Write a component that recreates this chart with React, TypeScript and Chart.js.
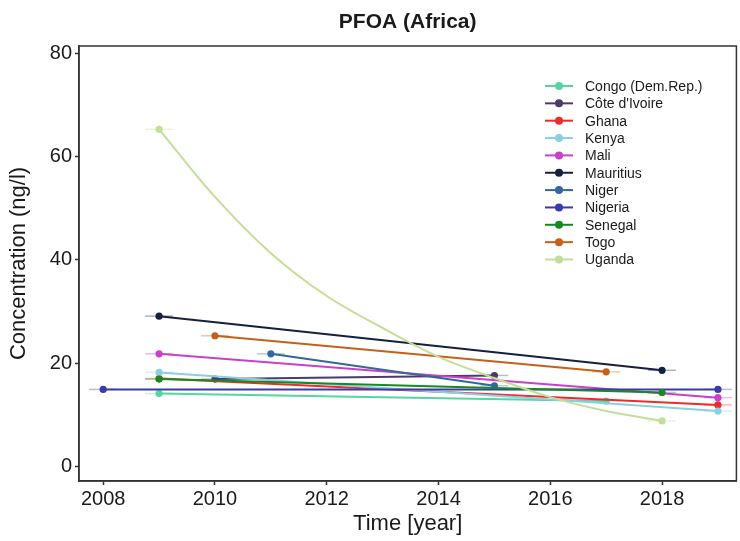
import React, { useEffect, useRef } from "react";
import { Chart, registerables } from "chart.js";

Chart.register(...registerables);

const TITLE = "PFOA (Africa)";
const X_TITLE = "Time [year]";
const Y_TITLE = "Concentration (ng/l)";
const X_TICKS = [2008, 2010, 2012, 2014, 2016, 2018];
const Y_TICKS = [0, 20, 40, 60, 80];

const COUNTRIES = [
  "Congo (Dem.Rep.)",
  "Côte d'Ivoire",
  "Ghana",
  "Kenya",
  "Mali",
  "Mauritius",
  "Niger",
  "Nigeria",
  "Senegal",
  "Togo",
  "Uganda",
];
const COLORS = [
  "#57d5a0",
  "#4a3b69",
  "#f02a2a",
  "#8ccfe3",
  "#c940c9",
  "#142040",
  "#33689e",
  "#3a3aaa",
  "#168a20",
  "#c4601a",
  "#c3de98",
];

const CONGO_YEARS = [2009, 2017];
const CONGO_VALUES = [14.1, 12.65];
const COTE_YEARS = [2010, 2015];
const COTE_VALUES = [16.9, 17.6];
const GHANA_YEARS = [2009, 2019];
const GHANA_VALUES = [17.0, 11.9];
const KENYA_YEARS = [2009, 2019];
const KENYA_VALUES = [18.2, 10.7];
const MALI_YEARS = [2009, 2019];
const MALI_VALUES = [21.8, 13.3];
const MAURITIUS_YEARS = [2009, 2018];
const MAURITIUS_VALUES = [29.1, 18.6];
const NIGER_YEARS = [2011, 2015];
const NIGER_VALUES = [21.8, 15.6];
const NIGERIA_YEARS = [2008, 2019];
const NIGERIA_VALUES = [14.9, 14.9];
const SENEGAL_YEARS = [2009, 2018];
const SENEGAL_VALUES = [16.9, 14.3];
const TOGO_YEARS = [2010, 2017];
const TOGO_VALUES = [25.3, 18.3];
const UGANDA_YEARS = [2009, 2010, 2011, 2012, 2013, 2014, 2015, 2016, 2017, 2018];
const UGANDA_VALUES = [65.3, 52.2, 41.3, 33.0, 26.8, 21.2, 17.1, 13.4, 10.7, 8.8];

const SERIES_YEARS = [
  CONGO_YEARS, COTE_YEARS, GHANA_YEARS, KENYA_YEARS, MALI_YEARS, MAURITIUS_YEARS,
  NIGER_YEARS, NIGERIA_YEARS, SENEGAL_YEARS, TOGO_YEARS, UGANDA_YEARS,
];
const SERIES_VALUES = [
  CONGO_VALUES, COTE_VALUES, GHANA_VALUES, KENYA_VALUES, MALI_VALUES, MAURITIUS_VALUES,
  NIGER_VALUES, NIGERIA_VALUES, SENEGAL_VALUES, TOGO_VALUES, UGANDA_VALUES,
];
const ERR_HALF = 0.25;

const FONT = "'Liberation Sans', Arial, sans-serif";
const TEXT = "#1a1a1a";
const AXIS = "#333333";

function hexA(hex: string, a: number) {
  const r = parseInt(hex.slice(1, 3), 16);
  const g = parseInt(hex.slice(3, 5), 16);
  const b = parseInt(hex.slice(5, 7), 16);
  return `rgba(${r},${g},${b},${a})`;
}

const decor = {
  id: "decor",
  beforeDatasetsDraw(chart: any) {
    const ctx = chart.ctx;
    const xs = chart.scales.x;
    chart.data.datasets.forEach((ds: any, i: number) => {
      const meta = chart.getDatasetMeta(i);
      const n = ds.data.length;
      ctx.save();
      ctx.strokeStyle = hexA(COLORS[i], 0.35);
      ctx.lineWidth = 1.5;
      [0, n - 1].forEach((idx) => {
        const p = ds.data[idx];
        const el = meta.data[idx];
        const x1 = xs.getPixelForValue(p.x - ERR_HALF);
        const x2 = xs.getPixelForValue(p.x + ERR_HALF);
        ctx.beginPath();
        ctx.moveTo(x1, el.y);
        ctx.lineTo(x2, el.y);
        ctx.stroke();
      });
      ctx.restore();
    });
  },
  afterDraw(chart: any) {
    const ctx = chart.ctx;
    const a = chart.chartArea;
    ctx.save();
    ctx.strokeStyle = AXIS;
    ctx.lineWidth = 1.5;
    ctx.strokeRect(a.left, a.top, a.right - a.left, a.bottom - a.top);
    ctx.fillStyle = TEXT;
    ctx.font = `bold 21px ${FONT}`;
    ctx.textAlign = "center";
    ctx.textBaseline = "middle";
    ctx.fillText(TITLE, (a.left + a.right) / 2, 22);
    ctx.font = `14px ${FONT}`;
    ctx.textAlign = "left";
    COUNTRIES.forEach((name, i) => {
      const y = 86 + i * 17.35;
      ctx.strokeStyle = COLORS[i];
      ctx.lineWidth = 2;
      ctx.beginPath();
      ctx.moveTo(545, y);
      ctx.lineTo(573, y);
      ctx.stroke();
      ctx.fillStyle = COLORS[i];
      ctx.beginPath();
      ctx.arc(559, y, 4, 0, Math.PI * 2);
      ctx.fill();
      ctx.fillStyle = TEXT;
      ctx.fillText(name, 585, y + 1);
    });
    ctx.restore();
  },
};

export default function App() {
  const ref = useRef<HTMLCanvasElement | null>(null);
  useEffect(() => {
    const canvas = ref.current;
    if (!canvas) return;
    const datasets = COUNTRIES.map((name, i) => ({
      label: name,
      data: SERIES_YEARS[i].map((yr, j) => ({ x: yr, y: SERIES_VALUES[i][j] })),
      order: COUNTRIES.length - i,
      borderColor: COLORS[i],
      backgroundColor: COLORS[i],
      borderWidth: 2,
      pointRadius: (c: any) =>
        c.dataIndex === 0 || c.dataIndex === SERIES_YEARS[i].length - 1 ? 3.6 : 0,
      pointBorderWidth: 0,
      pointHoverRadius: 0,
      cubicInterpolationMode: "monotone" as const,
      fill: false,
    }));
    const chart = new Chart(canvas, {
      type: "line",
      data: { datasets },
      plugins: [decor],
      options: {
        animation: false,
        responsive: false,
        events: [],
        layout: { padding: { top: 46, right: 1, left: 0, bottom: 0 } },
        plugins: {
          legend: { display: false },
          title: { display: false },
          tooltip: { enabled: false },
        },
        scales: {
          x: {
            type: "linear",
            min: 2007.567,
            max: 2019.33,
            afterBuildTicks: (s: any) => {
              s.ticks = X_TICKS.map((v) => ({ value: v }));
            },
            afterFit: (s: any) => {
              s.height = 60;
            },
            ticks: {
              font: { family: FONT, size: 20 },
              color: TEXT,
              padding: 2,
              maxRotation: 0,
              autoSkip: false,
              callback: (v: any) => String(v),
            },
            grid: {
              display: true,
              drawOnChartArea: false,
              drawTicks: true,
              tickLength: 4,
              tickColor: AXIS,
              tickWidth: 1.5,
            },
            border: { display: true, color: AXIS, width: 1.5 },
            title: {
              display: true,
              text: X_TITLE,
              font: { family: FONT, size: 22 },
              color: TEXT,
              padding: { top: 0, bottom: 4 },
            },
          },
          y: {
            type: "linear",
            min: -2.85,
            max: 81.45,
            afterBuildTicks: (s: any) => {
              s.ticks = Y_TICKS.map((v) => ({ value: v }));
            },
            afterFit: (s: any) => {
              s.width = 79;
            },
            ticks: {
              font: { family: FONT, size: 20 },
              color: TEXT,
              padding: 3,
              autoSkip: false,
              callback: (v: any) => String(v),
            },
            grid: {
              display: true,
              drawOnChartArea: false,
              drawTicks: true,
              tickLength: 4,
              tickColor: AXIS,
              tickWidth: 1.5,
            },
            border: { display: true, color: AXIS, width: 1.5 },
            title: {
              display: true,
              text: Y_TITLE,
              font: { family: FONT, size: 22 },
              color: TEXT,
              padding: { top: 6, bottom: 0 },
            },
          },
        },
      },
    });
    return () => chart.destroy();
  }, []);
  return (
    <div style={{ position: "fixed", left: 0, top: 0, width: 740, height: 541, background: "#fff" }}>
      <canvas ref={ref} width={740} height={541} style={{ width: 740, height: 541, display: "block" }} />
    </div>
  );
}
